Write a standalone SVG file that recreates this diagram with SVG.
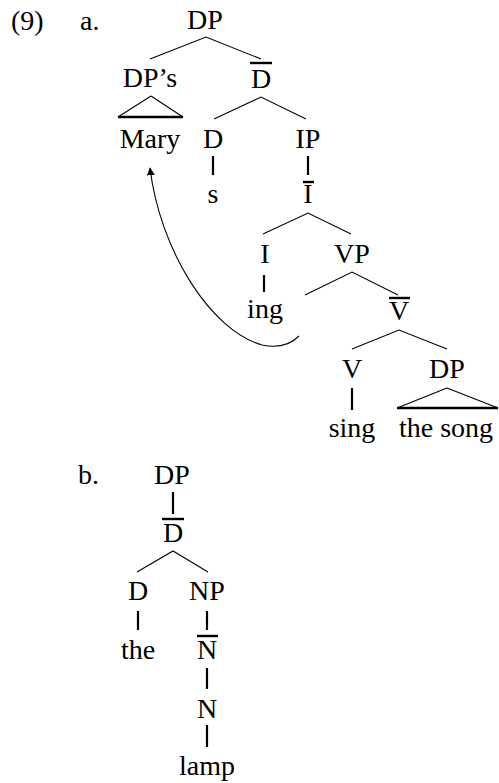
<svg xmlns="http://www.w3.org/2000/svg" width="499" height="783" viewBox="0 0 499 783">
<style>
text{font-family:"Liberation Serif","Times New Roman",serif;font-size:28px;fill:#000;text-anchor:middle}
.l{text-anchor:start}
.br{stroke:#000;stroke-width:1.1;fill:none}
.u{stroke:#000;stroke-width:2.2;fill:none}
.bar{stroke:#000;stroke-width:2.4;fill:none}
</style>
<defs>
<marker id="ah" viewBox="0 0 10 10" refX="9" refY="5" markerWidth="8" markerHeight="8" markerUnits="userSpaceOnUse" orient="auto">
<path d="M0,0 L10,5 L0,10 z" fill="#000"/>
</marker>
</defs>
<rect width="499" height="783" fill="#fff"/>
<g id="labels">
<text class="l" x="11" y="30">(9)</text>
<text class="l" x="80" y="30">a.</text>
<text class="l" x="78" y="484">b.</text>
</g>
<g id="connectors">
<path class="br" d="M150,59 L206,37 L261,59"/>
<path class="br" d="M151,96 L118,117 M151,96 L183,117"/>
<path class="bar" d="M118,117 H183"/>
<path class="br" d="M214,119 L261,97 L306,119"/>
<path class="u" d="M213,156 V175"/>
<path class="u" d="M308,156 V175"/>
<path class="br" d="M263,234 L308,213 L351,234"/>
<path class="u" d="M264,275 V292"/>
<path class="br" d="M305,295 L352,272 L398,295"/>
<path class="br" d="M352,349 L399,330 L447,349"/>
<path class="u" d="M352,388 V410"/>
<path class="br" d="M447,388 L397,408 M447,388 L498,408"/>
<path class="bar" d="M397,408 H498"/>
<path class="br" marker-end="url(#ah)" d="M299,336 Q285,350 262,345 C210,330 160,250 150,168"/>
<path class="u" d="M173,492 V514"/>
<path class="br" d="M137,572 L173,551 L208,572"/>
<path class="u" d="M138,611 V630"/>
<path class="u" d="M207,611 V630"/>
<path class="u" d="M207,668 V689"/>
<path class="u" d="M207,725 V747"/>
</g>
<g id="tree-a">
<g id="a-DP"><text x="205" y="29">DP</text></g>
<g id="a-DPs"><text x="150" y="87">DP’s</text></g>
<g id="a-Mary"><text x="150" y="148">Mary</text></g>
<g id="a-Dbar"><path class="bar" d="M250,63 H272"/><text x="261" y="88">D</text></g>
<g id="a-D"><text x="213" y="148">D</text></g>
<g id="a-s"><text x="213" y="203">s</text></g>
<g id="a-IP"><text x="308" y="148">IP</text></g>
<g id="a-Ibar"><path class="bar" d="M303,182 H314"/><text x="308" y="203">I</text></g>
<g id="a-I"><text x="265" y="263">I</text></g>
<g id="a-VP"><text x="352" y="263">VP</text></g>
<g id="a-ing"><text x="265" y="318">ing</text></g>
<g id="a-Vbar"><path class="bar" d="M389,298 H410"/><text x="399" y="320">V</text></g>
<g id="a-V"><text x="352" y="378">V</text></g>
<g id="a-DP2"><text x="447" y="378">DP</text></g>
<g id="a-sing"><text x="352" y="437">sing</text></g>
<g id="a-thesong"><text x="446" y="437">the song</text></g>
</g>
<g id="tree-b">
<g id="b-DP"><text x="172" y="484">DP</text></g>
<g id="b-Dbar"><path class="bar" d="M162,519 H184"/><text x="173" y="542">D</text></g>
<g id="b-D"><text x="138" y="600">D</text></g>
<g id="b-NP"><text x="207" y="600">NP</text></g>
<g id="b-the"><text x="138" y="659">the</text></g>
<g id="b-Nbar"><path class="bar" d="M197,636 H218"/><text x="207" y="659">N</text></g>
<g id="b-N"><text x="207" y="718">N</text></g>
<g id="b-lamp"><text x="207" y="775">lamp</text></g>
</g>
</svg>
